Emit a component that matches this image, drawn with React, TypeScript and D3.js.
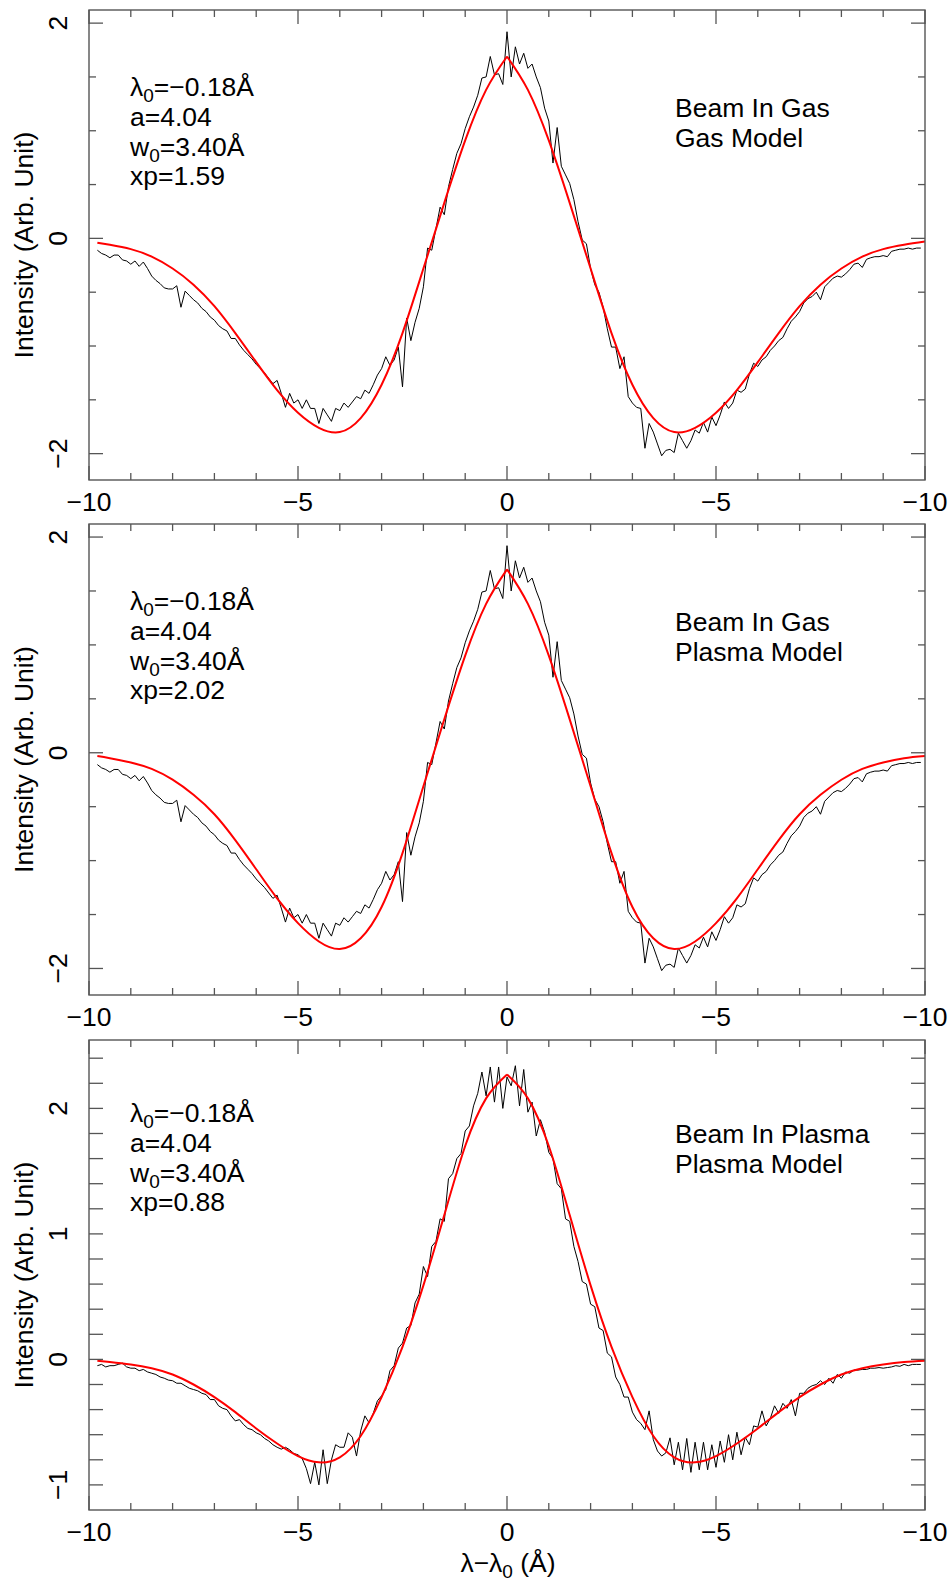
import React from 'react';
import * as d3 from 'd3';

// Spectrum sampling grid (wavelength offset, Å)
const WAVE_START = -9.8;
const WAVE_STEP = 0.1;

// Measured spectrum, beam in gas (panels 1 and 2), from -9.8 to 9.9 Å
const gasData = [
  -0.11, -0.14, -0.155, -0.18, -0.155, -0.155, -0.2, -0.21, -0.24, -0.21,
  -0.26, -0.22, -0.28, -0.35, -0.39, -0.42, -0.46, -0.47, -0.47, -0.44,
  -0.64, -0.49, -0.53, -0.57, -0.6, -0.65, -0.68, -0.73, -0.76, -0.81,
  -0.84, -0.86, -0.93, -0.93, -0.99, -1.04, -1.08, -1.12, -1.17, -1.21,
  -1.25, -1.3, -1.35, -1.32, -1.44, -1.57, -1.44, -1.53, -1.5, -1.58,
  -1.5, -1.58, -1.58, -1.72, -1.58, -1.64, -1.7, -1.58, -1.6, -1.53,
  -1.57, -1.52, -1.47, -1.49, -1.41, -1.44, -1.36, -1.27, -1.21, -1.1,
  -1.18, -1.13, -1.01, -1.38, -0.74, -0.95, -0.78, -0.65, -0.45, -0.09,
  -0.11, 0.09, 0.29, 0.22, 0.48, 0.64, 0.79, 0.88, 1.02, 1.13,
  1.22, 1.33, 1.49, 1.5, 1.69, 1.52, 1.53, 1.43, 1.92,
  1.5, 1.78, 1.62, 1.72, 1.58, 1.62, 1.5, 1.4, 1.21, 1.09,
  0.7, 1.03, 0.67, 0.59, 0.51, 0.36, 0.155, -0.015, -0.05, -0.28,
  -0.43, -0.5, -0.64, -0.84, -1.01, -1.01, -1.21, -1.1, -1.47, -1.53,
  -1.57, -1.58, -1.95, -1.72, -1.8, -1.91, -2.02, -1.97, -1.96, -1.99,
  -1.81, -1.88, -1.95, -1.88, -1.78, -1.81, -1.71, -1.8, -1.66, -1.74,
  -1.64, -1.52, -1.58, -1.53, -1.41, -1.43, -1.4, -1.26, -1.16, -1.19,
  -1.13, -1.1, -1.04, -1.0, -0.95, -0.92, -0.84, -0.77, -0.73, -0.68,
  -0.6, -0.56, -0.54, -0.5, -0.57, -0.45, -0.41, -0.37, -0.35, -0.36,
  -0.33, -0.29, -0.24, -0.23, -0.27, -0.195, -0.18, -0.17, -0.17, -0.16,
  -0.17, -0.12, -0.11, -0.1, -0.1, -0.09, -0.1, -0.09, -0.09,
];

// Measured spectrum, beam in plasma (panel 3), from -9.8 to 9.9 Å
const plasmaData = [
  -0.05, -0.04, -0.06, -0.05, -0.05, -0.04, -0.03, -0.06, -0.07, -0.07,
  -0.09, -0.08, -0.1, -0.11, -0.12, -0.14, -0.15, -0.165, -0.17, -0.19,
  -0.19, -0.21, -0.23, -0.24, -0.25, -0.27, -0.28, -0.32, -0.32, -0.37,
  -0.39, -0.4, -0.45, -0.49, -0.48, -0.52, -0.55, -0.56, -0.585, -0.6,
  -0.63, -0.65, -0.68, -0.7, -0.715, -0.7, -0.72, -0.75, -0.76, -0.79,
  -0.87, -0.99, -0.82, -1.0, -0.72, -0.99, -0.8, -0.68, -0.7, -0.7,
  -0.585, -0.62, -0.77, -0.57, -0.45, -0.505, -0.43, -0.33, -0.29, -0.24,
  -0.09, -0.05, 0.09, 0.13, 0.25, 0.27, 0.45, 0.52, 0.74, 0.66,
  0.9, 0.94, 1.12, 1.1, 1.44, 1.48, 1.6, 1.64, 1.82, 1.86,
  2.02, 2.12, 2.29, 2.1, 2.33, 2.05, 2.33, 2.0, 2.25,
  2.18, 2.34, 2.02, 2.31, 1.97, 2.05, 1.78, 1.91, 1.81, 1.65,
  1.6, 1.4, 1.36, 1.12, 1.1, 0.9, 0.78, 0.62, 0.6, 0.44,
  0.42, 0.25, 0.23, 0.05, 0.02, -0.14, -0.2, -0.3, -0.3, -0.42,
  -0.48, -0.51, -0.56, -0.41, -0.64, -0.73, -0.77, -0.745, -0.625, -0.84,
  -0.66, -0.88, -0.63, -0.9, -0.66, -0.88, -0.66, -0.88, -0.68, -0.86,
  -0.65, -0.82, -0.6, -0.8, -0.58, -0.76, -0.62, -0.68, -0.53, -0.54,
  -0.41, -0.53, -0.47, -0.37, -0.43, -0.35, -0.39, -0.32, -0.45, -0.27,
  -0.27, -0.23, -0.21, -0.2, -0.17, -0.2, -0.15, -0.19, -0.12, -0.15,
  -0.1, -0.11, -0.085, -0.085, -0.08, -0.08, -0.07, -0.07, -0.065, -0.07,
  -0.065, -0.06, -0.05, -0.055, -0.04, -0.05, -0.04, -0.04, -0.04,
];

// Model curves sampled at these wavelengths
const modelWave = [
  -9.8, -9.5, -9, -8.5, -8, -7.5, -7, -6.5, -6, -5.5, -5, -4.5, -4, -3.5, -3, -2.5, -2, -1.5, -1, -0.5,
  0, 0.5, 1, 1.5, 2, 2.5, 3, 3.5, 4, 4.5, 5, 5.5, 6, 6.5, 7, 7.5, 8, 8.5, 9, 9.5, 10,
];
const gasModelFit = [
  -0.04, -0.06, -0.1, -0.17, -0.28, -0.43, -0.63, -0.88, -1.15, -1.41, -1.62, -1.76, -1.8, -1.67, -1.36, -0.88, -0.28, 0.33, 0.91, 1.38,
  1.69, 1.38, 0.91, 0.33, -0.28, -0.88, -1.36, -1.67, -1.8, -1.76, -1.62, -1.41, -1.15, -0.88, -0.63, -0.43, -0.28, -0.17, -0.1, -0.06, -0.03,
];
const gasPlasmaFit = [
  -0.03, -0.05, -0.09, -0.15, -0.25, -0.39, -0.57, -0.81, -1.08, -1.35, -1.58, -1.75, -1.82, -1.72, -1.43, -0.93, -0.31, 0.31, 0.9, 1.38,
  1.7, 1.38, 0.9, 0.31, -0.31, -0.93, -1.43, -1.72, -1.82, -1.75, -1.58, -1.35, -1.08, -0.81, -0.57, -0.39, -0.25, -0.15, -0.09, -0.05, -0.03,
];
const plasmaPlasmaFit = [
  -0.01, -0.02, -0.04, -0.07, -0.12, -0.2, -0.3, -0.42, -0.55, -0.67, -0.77, -0.82, -0.78, -0.61, -0.3, 0.1, 0.59, 1.15, 1.7, 2.08,
  2.27, 2.08, 1.7, 1.15, 0.59, 0.1, -0.3, -0.61, -0.78, -0.82, -0.77, -0.67, -0.55, -0.42, -0.3, -0.2, -0.12, -0.07, -0.04, -0.02, -0.01,
];

const xTickValues = [-10, -5, 0, 5, 10];
const xTickLabels = ['\u221210', '\u22125', '0', '\u22125', '\u221210'];
const yTickValuesGas = [-2, 0, 2];
const yTickLabelsGas = ['\u22122', '0', '2'];
const yTickValuesPlasma = [-1, 0, 1, 2];
const yTickLabelsPlasma = ['\u22121', '0', '1', '2'];

const fitParams = ['1.59', '2.02', '0.88'];
const panelTitles = [
  ['Beam In Gas', 'Gas Model'],
  ['Beam In Gas', 'Plasma Model'],
  ['Beam In Plasma', 'Plasma Model'],
];

const FONT = "'Liberation Sans', Arial, Helvetica, sans-serif";
const AXIS_COLOR = '#555';
const FS = 26.5;

const panels = [
  {
    top: 10, bottom: 480, yDomain: [-2.245, 2.122], minorFrom: -2, minorTo: 2, minorStep: 0.5, allLong: false,
    yVals: yTickValuesGas, yLabels: yTickLabelsGas, data: gasData, fit: gasModelFit, xp: fitParams[0], titles: panelTitles[0],
    annY: 96, titleY: 117,
  },
  {
    top: 524, bottom: 995, yDomain: [-2.246, 2.121], minorFrom: -2, minorTo: 2, minorStep: 0.5, allLong: false,
    yVals: yTickValuesGas, yLabels: yTickLabelsGas, data: gasData, fit: gasPlasmaFit, xp: fitParams[1], titles: panelTitles[1],
    annY: 610, titleY: 631,
  },
  {
    top: 1040, bottom: 1510, yDomain: [-1.2, 2.545], minorFrom: -1, minorTo: 2.4, minorStep: 0.2, allLong: true,
    yVals: yTickValuesPlasma, yLabels: yTickLabelsPlasma, data: plasmaData, fit: plasmaPlasmaFit, xp: fitParams[2], titles: panelTitles[2],
    annY: 1122, titleY: 1143,
  },
];

const LEFT = 89;
const RIGHT = 925;

function Panel({ p, x }: { p: any; x: d3.ScaleLinear<number, number> }) {
  const y = d3.scaleLinear().domain(p.yDomain).range([p.bottom, p.top]);
  const waveAt = (i: number) => WAVE_START + i * WAVE_STEP;
  const dataLine = d3.line<number>().x((_, i) => x(waveAt(i))).y((d) => y(d));
  const fitLine = d3
    .line<[number, number]>()
    .x((d) => x(d[0]))
    .y((d) => y(d[1]))
    .curve(d3.curveNatural);
  const pairs: [number, number][] = modelWave.map((w, i) => [w, p.fit[i]]);
  const leftHalf = pairs.filter((d) => d[0] <= 0);
  const rightHalf = pairs.filter((d) => d[0] >= 0);

  const xMinor = d3.range(-10, 10.001, 1);
  const yMinor = d3.range(p.minorFrom, p.minorTo + 0.001, p.minorStep);
  const isMajorX = (v: number) => Math.abs(v % 5) < 1e-6;
  const isMajorY = (v: number) => p.allLong || p.yVals.some((m: number) => Math.abs(m - v) < 1e-6);

  const midY = (p.top + p.bottom) / 2;
  const lineGap = 29.8;

  return (
    <g>
      <path d={dataLine(p.data) || ''} fill="none" stroke="#000" strokeWidth={1} strokeLinejoin="round" />
      <path d={fitLine(leftHalf) || ''} fill="none" stroke="#ff0000" strokeWidth={2} />
      <path d={fitLine(rightHalf) || ''} fill="none" stroke="#ff0000" strokeWidth={2} />

      <rect x={LEFT} y={p.top} width={RIGHT - LEFT} height={p.bottom - p.top} fill="none" stroke={AXIS_COLOR} strokeWidth={1.4} />
      {xMinor.map((v) => {
        const len = isMajorX(v) ? 14 : 7;
        const px = x(v);
        return (
          <g key={'xt' + v}>
            <line x1={px} x2={px} y1={p.bottom} y2={p.bottom - len} stroke={AXIS_COLOR} strokeWidth={1.3} />
            <line x1={px} x2={px} y1={p.top} y2={p.top + len} stroke={AXIS_COLOR} strokeWidth={1.3} />
          </g>
        );
      })}
      {yMinor.map((v) => {
        const len = isMajorY(v) ? 14 : 7;
        const py = y(v);
        return (
          <g key={'yt' + v}>
            <line x1={LEFT} x2={LEFT + len} y1={py} y2={py} stroke={AXIS_COLOR} strokeWidth={1.3} />
            <line x1={RIGHT} x2={RIGHT - len} y1={py} y2={py} stroke={AXIS_COLOR} strokeWidth={1.3} />
          </g>
        );
      })}
      {xTickValues.map((v, i) => (
        <text key={'xl' + i} x={x(v)} y={p.bottom + 31} fontSize={FS} textAnchor="middle" fill="#000">
          {xTickLabels[i]}
        </text>
      ))}
      {p.yVals.map((v: number, i: number) => (
        <text key={'yl' + i} transform={`translate(67,${y(v)}) rotate(-90)`} fontSize={FS} textAnchor="middle" fill="#000">
          {p.yLabels[i]}
        </text>
      ))}
      <text transform={`translate(33,${midY}) rotate(-90)`} fontSize={FS} textAnchor="middle" fill="#000">
        Intensity (Arb. Unit)
      </text>

      <text x={130} y={p.annY} fontSize={FS} fill="#000" style={{ whiteSpace: 'pre' }}>
        λ<tspan fontSize={19} dy={6}>0</tspan>
        <tspan dy={-6}>=−0.18Å</tspan>
      </text>
      <text x={130} y={p.annY + lineGap} fontSize={FS} fill="#000">a=4.04</text>
      <text x={130} y={p.annY + lineGap * 2} fontSize={FS} fill="#000" style={{ whiteSpace: 'pre' }}>
        w<tspan fontSize={19} dy={6}>0</tspan>
        <tspan dy={-6}>=3.40Å</tspan>
      </text>
      <text x={130} y={p.annY + lineGap * 3} fontSize={FS} fill="#000">{'xp=' + p.xp}</text>

      <text x={675} y={p.titleY} fontSize={FS} fill="#000">{p.titles[0]}</text>
      <text x={675} y={p.titleY + 30} fontSize={FS} fill="#000">{p.titles[1]}</text>
    </g>
  );
}

export default function App() {
  const x = d3.scaleLinear().domain([-10, 10]).range([LEFT, RIGHT]);
  return (
    <svg
      width={951}
      height={1583}
      style={{ position: 'absolute', left: 0, top: 0, display: 'block' }}
      fontFamily={FONT}
    >
      <rect x={0} y={0} width={951} height={1583} fill="#fff" />
      {panels.map((p, i) => (
        <Panel key={i} p={p} x={x} />
      ))}
      <text x={508} y={1572} fontSize={FS} textAnchor="middle" fill="#000" style={{ whiteSpace: 'pre' }}>
        λ−λ<tspan fontSize={19} dy={6}>0</tspan>
        <tspan dy={-6}>{' (Å)'}</tspan>
      </text>
    </svg>
  );
}
